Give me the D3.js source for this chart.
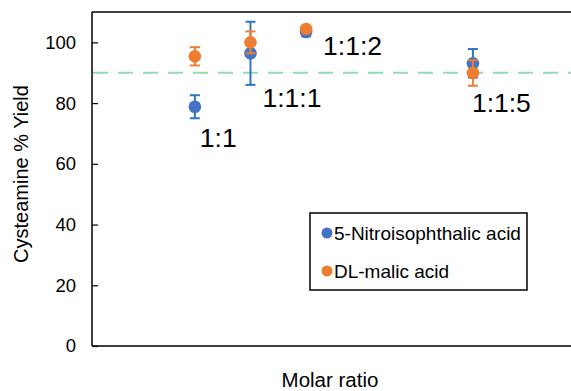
<!DOCTYPE html>
<html>
<head>
<meta charset="utf-8">
<script src="https://d3js.org/d3.v7.min.js"></script>
<style>
  body { margin: 0; background: #fff; }
  text { font-family: "Liberation Sans", Arial, sans-serif; fill: #000; }
</style>
</head>
<body>
<script>
// ratios and where they sit on the x axis (third part of the ratio)
var ratios = ["1:1", "1:1:1", "1:1:2", "1:1:5"];
var ratioX = [0, 1, 2, 5];

// 5-Nitroisophthalic acid
var nitroYield = [78.8, 96.4, 103.4, 93.1];
var nitroErr = [3.8, 10.4, 1.4, 4.7];

// DL-malic acid
var malicYield = [95.4, 100.0, 104.4, 89.9];
var malicErr = [3.0, 3.6, 1.0, 4.2];

var yTicks = [0, 20, 40, 60, 80, 100];
var targetYield = 90;

// label offsets (px) from the blue point
var labelOff = [[5, 40], [12, 54], [17, 23], [-1, 49]];

var width = 571, height = 391;
var margin = {left: 92, top: 12, right: -2, bottom: 45};

var svg = d3.select("body").append("svg")
    .attr("width", width)
    .attr("height", height);

var x = d3.scaleLinear()
    .domain([-1.85, 6.8])
    .range([margin.left, width - margin.right]);
var y = d3.scaleLinear()
    .domain([0, 110])
    .range([height - margin.bottom, margin.top]);

// frame
svg.append("line")
    .attr("x1", margin.left).attr("x2", width)
    .attr("y1", margin.top).attr("y2", margin.top)
    .attr("stroke", "#000").attr("stroke-width", 1.5);
svg.append("line")
    .attr("x1", margin.left).attr("x2", width)
    .attr("y1", y(0)).attr("y2", y(0))
    .attr("stroke", "#000").attr("stroke-width", 1.5);

// y axis, ticks pointing in
var yAxis = svg.append("g")
    .attr("transform", "translate(" + margin.left + ",0)")
    .call(d3.axisLeft(y).tickValues(yTicks).tickSize(-6).tickPadding(16));
yAxis.select(".domain")
    .attr("d", "M0," + y(0) + "V" + margin.top)
    .attr("stroke-width", 1.5);
yAxis.selectAll(".tick line").attr("stroke-width", 1.2);
yAxis.selectAll("text")
    .style("font-size", "18.5px")
    .style("font-family", "Liberation Sans, Arial, sans-serif")
    .attr("fill", "#000");

// dashed target line
svg.append("line")
    .attr("x1", margin.left + 1).attr("x2", width)
    .attr("y1", y(targetYield)).attr("y2", y(targetYield))
    .attr("stroke", "#92dcb3")
    .attr("stroke-width", 2)
    .attr("stroke-dasharray", "15,10");

var series = [
  {name: "5-Nitroisophthalic acid", vals: nitroYield, err: nitroErr, color: "#4472c4", errColor: "#2e75c6"},
  {name: "DL-malic acid", vals: malicYield, err: malicErr, color: "#ed7d31", errColor: "#ed7d31"}
];

series.forEach(function (s) {
  var g = svg.append("g");
  var pts = ratioX.map(function (d, i) {
    return {x: d, v: s.vals[i], e: s.err[i]};
  });
  var eb = g.selectAll("g.err").data(pts).enter().append("g")
      .attr("stroke", s.errColor)
      .attr("stroke-width", 2);
  eb.append("line")
      .attr("x1", function (d) { return x(d.x); })
      .attr("x2", function (d) { return x(d.x); })
      .attr("y1", function (d) { return y(d.v - d.e); })
      .attr("y2", function (d) { return y(d.v + d.e); });
  [-1, 1].forEach(function (sg) {
    eb.append("line")
        .attr("x1", function (d) { return x(d.x) - 5; })
        .attr("x2", function (d) { return x(d.x) + 5; })
        .attr("y1", function (d) { return y(d.v + sg * d.e); })
        .attr("y2", function (d) { return y(d.v + sg * d.e); });
  });
  g.selectAll("circle").data(pts).enter().append("circle")
      .attr("cx", function (d) { return x(d.x); })
      .attr("cy", function (d) { return y(d.v); })
      .attr("r", 6.3)
      .attr("fill", s.color);
});

// ratio labels
svg.selectAll("text.ratio").data(ratios).enter().append("text")
    .attr("class", "ratio")
    .attr("x", function (d, i) { return x(ratioX[i]) + labelOff[i][0]; })
    .attr("y", function (d, i) { return y(nitroYield[i]) + labelOff[i][1]; })
    .style("font-size", "26.5px")
    .text(function (d) { return d; });

// legend
var lg = svg.append("g").attr("transform", "translate(310,213)");
lg.append("rect")
    .attr("width", 217).attr("height", 77)
    .attr("fill", "#fff")
    .attr("stroke", "#000").attr("stroke-width", 1.5);
series.forEach(function (s, i) {
  var row = lg.append("g").attr("transform", "translate(0," + (20 + i * 38) + ")");
  row.append("circle").attr("cx", 17).attr("cy", 0).attr("r", 5.5).attr("fill", s.color);
  row.append("text").attr("x", 24).attr("y", 6.5)
      .style("font-size", "19px")
      .text(s.name);
});

// axis titles
svg.append("text")
    .attr("transform", "translate(28," + 174 + ") rotate(-90)")
    .attr("text-anchor", "middle")
    .style("font-size", "20px")
    .text("Cysteamine % Yield");
svg.append("text")
    .attr("x", 330).attr("y", 387)
    .attr("text-anchor", "middle")
    .style("font-size", "20.5px")
    .text("Molar ratio");
</script>
</body>
</html>
